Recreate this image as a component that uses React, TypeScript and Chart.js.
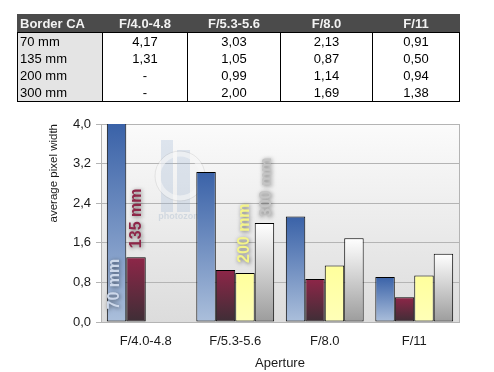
import React, { useEffect, useRef } from "react";
import { Chart, registerables } from "chart.js";

Chart.register(...registerables);

const categories = ["F/4.0-4.8", "F/5.3-5.6", "F/8.0", "F/11"];
const seriesNames = ["70 mm", "135 mm", "200 mm", "300 mm"];
const s70: (number | null)[] = [4.17, 3.03, 2.13, 0.91];
const s135: (number | null)[] = [1.31, 1.05, 0.87, 0.5];
const s200: (number | null)[] = [null, 0.99, 1.14, 0.94];
const s300: (number | null)[] = [null, 2.0, 1.69, 1.38];
const yTickLabels = ["0,0", "0,8", "1,6", "2,4", "3,2", "4,0"];
const tableTitle = "Border CA";

const seriesValues = [s70, s135, s200, s300];

const FONT = 'Arial, "Liberation Sans", sans-serif';

const gradStops: [string, string][] = [
  ["#3a62a8", "#abbfdb"],
  ["#8e2648", "#3e2e36"],
  ["#ffff9c", "#ffffb8"],
  ["#ffffff", "#9c9c9c"],
];

// label config: which bar index gets the series label, inside or above, color
const labelCfg = [
  { idx: 0, inside: true, color: "#cdd8ea", dx: -2, gap: 12 },
  { idx: 0, inside: false, color: "#8e2648", dx: 1, gap: 9 },
  { idx: 1, inside: false, color: "#f4f48a", dx: 0, gap: 10 },
  { idx: 1, inside: false, color: "#c4c4c4", dx: 2, gap: 6 },
];

const fmt = (v: number | null) => (v === null ? "-" : v.toFixed(2).replace(".", ","));

const bgPlugin = {
  id: "plotBg",
  beforeDraw(chart: any) {
    const { ctx, chartArea: a } = chart;
    const g = ctx.createLinearGradient(0, a.top, 0, a.bottom);
    g.addColorStop(0, "#fbfbfb");
    g.addColorStop(1, "#dcdcdc");
    ctx.save();
    ctx.fillStyle = g;
    ctx.fillRect(a.left, a.top, a.right - a.left, a.bottom - a.top);
    ctx.restore();
  },
  beforeDatasetsDraw(chart: any) {
    const { ctx } = chart;
    ctx.save();
    ctx.globalAlpha = 0.3;
    ctx.fillStyle = "#9fb6d4";
    ctx.fillRect(161, 140, 12, 72);
    ctx.fillRect(177, 150, 13, 62);
    ctx.globalAlpha = 0.6;
    ctx.strokeStyle = "#f6f6f6";
    ctx.lineWidth = 5;
    ctx.beginPath();
    ctx.arc(180, 176, 22, 0, Math.PI * 2);
    ctx.stroke();
    ctx.globalAlpha = 0.25;
    ctx.strokeStyle = "#b0b0b0";
    ctx.lineWidth = 1;
    ctx.beginPath();
    ctx.arc(180, 176, 25, 0, Math.PI * 2);
    ctx.stroke();
    ctx.globalAlpha = 0.4;
    ctx.fillStyle = "#a8b8cc";
    ctx.font = `bold 9px ${FONT}`;
    ctx.textAlign = "center";
    ctx.textBaseline = "middle";
    ctx.fillText("photozone", 181, 217);
    ctx.restore();
    // right border of plot
    const a = chart.chartArea;
    ctx.save();
    ctx.strokeStyle = "#b4b4b4";
    ctx.lineWidth = 1;
    ctx.beginPath();
    ctx.moveTo(Math.round(a.right) + 0.5, a.top);
    ctx.lineTo(Math.round(a.right) + 0.5, a.bottom);
    ctx.stroke();
    ctx.restore();
  },
  afterDatasetsDraw(chart: any) {
    const { ctx } = chart;
    chart.data.datasets.forEach((ds: any, di: number) => {
      const cfg = labelCfg[di];
      const el = chart.getDatasetMeta(di).data[cfg.idx];
      if (!el) return;
      const x = el.x + cfg.dx;
      const yStart = cfg.inside ? el.base - cfg.gap : el.y - cfg.gap;
      ctx.save();
      ctx.translate(x, yStart);
      ctx.rotate(-Math.PI / 2);
      ctx.font = `bold 16px ${FONT}`;
      ctx.textAlign = "left";
      ctx.textBaseline = "middle";
      ctx.shadowColor = "rgba(0,0,0,0.55)";
      ctx.shadowBlur = 4;
      ctx.shadowOffsetX = 1;
      ctx.shadowOffsetY = 1;
      ctx.fillStyle = cfg.color;
      ctx.fillText(ds.label, 0, 0);
      ctx.restore();
    });
  },
};

export default function App() {
  const ref = useRef<HTMLCanvasElement | null>(null);

  useEffect(() => {
    if (!ref.current) return;
    const chart = new Chart(ref.current, {
      type: "bar",
      data: {
        labels: categories,
        datasets: seriesValues.map((vals, i) => ({
          label: seriesNames[i],
          data: vals,
          borderColor: "#000000",
          borderWidth: 1,
          borderSkipped: false,
          categoryPercentage: 0.87,
          barPercentage: 1.0,
          backgroundColor: (c: any) => {
            const chart = c.chart;
            const area = chart.chartArea;
            if (!area || c.raw === null || c.raw === undefined) return gradStops[i][0];
            const ys = chart.scales.y;
            const top = Math.max(ys.getPixelForValue(c.raw), area.top);
            const bottom = ys.getPixelForValue(0);
            const g = chart.ctx.createLinearGradient(0, top, 0, bottom);
            g.addColorStop(0, gradStops[i][0]);
            g.addColorStop(1, gradStops[i][1]);
            return g;
          },
        })),
      },
      options: {
        responsive: false,
        animation: false,
        layout: { padding: { left: 0, right: 35, top: 124, bottom: 0 } },
        plugins: {
          legend: { display: false },
          tooltip: { enabled: false },
        },
        scales: {
          x: {
            grid: { display: false },
            border: { display: true, color: "#b4b4b4" },
            ticks: { color: "#1a1a1a", font: { family: FONT, size: 13 }, padding: 4, maxRotation: 0 },
            title: {
              display: true,
              text: "Aperture",
              color: "#1a1a1a",
              font: { family: FONT, size: 13 },
              padding: { top: 0, bottom: 1 },
            },
            afterFit: (s: any) => {
              s.height = 50;
            },
          },
          y: {
            min: 0,
            max: 4,
            ticks: {
              stepSize: 0.8,
              color: "#1a1a1a",
              font: { family: FONT, size: 13 },
              padding: 5,
              callback: (_v: any, idx: number) => yTickLabels[idx],
            },
            grid: { color: "#b4b4b4", lineWidth: 1, tickLength: 5, drawTicks: true },
            border: { display: true, color: "#b4b4b4" },
            title: {
              display: true,
              text: "average pixel width",
              align: "end",
              color: "#1a1a1a",
              font: { family: FONT, size: 11.5 },
              padding: { top: 47, bottom: 0 },
            },
            afterFit: (s: any) => {
              s.width = 101;
            },
          },
        },
      },
      plugins: [bgPlugin],
    } as any);
    return () => chart.destroy();
  }, []);

  const colW = [85, 85, 93, 92, 87];
  const cellBase: React.CSSProperties = {
    fontFamily: FONT,
    fontSize: 13,
    height: 17,
    lineHeight: "17px",
    padding: 0,
    boxSizing: "border-box",
    whiteSpace: "nowrap",
  };

  return (
    <div style={{ position: "absolute", left: 0, top: 0, width: 494, height: 372, background: "#ffffff" }}>
      <canvas ref={ref} width={494} height={372} style={{ position: "absolute", left: 0, top: 0 }} />
      <table
        style={{
          position: "absolute",
          left: 17,
          top: 14,
          width: 442,
          borderCollapse: "collapse",
          tableLayout: "fixed",
          borderSpacing: 0,
        }}
      >
        <colgroup>
          {colW.map((w, i) => (
            <col key={i} style={{ width: w }} />
          ))}
        </colgroup>
        <thead>
          <tr>
            {[tableTitle, ...categories].map((h, i) => (
              <th
                key={i}
                style={{
                  ...cellBase,
                  background: "#4b4b4b",
                  color: "#f2f2f2",
                  fontWeight: "bold",
                  textAlign: i === 0 ? "left" : "center",
                  paddingLeft: i === 0 ? 2 : 0,
                  border: "1px solid #4b4b4b",
                  borderBottom: "1px solid #000",
                }}
              >
                {h}
              </th>
            ))}
          </tr>
        </thead>
        <tbody>
          {seriesNames.map((name, r) => (
            <tr key={r}>
              <td
                style={{
                  ...cellBase,
                  background: "#e4e4e4",
                  color: "#000",
                  textAlign: "left",
                  paddingLeft: 2,
                  borderLeft: "1px solid #000",
                  borderRight: "1px solid #000",
                  borderBottom: r === seriesNames.length - 1 ? "1px solid #000" : "none",
                }}
              >
                {name}
              </td>
              {seriesValues[r].map((v, c) => (
                <td
                  key={c}
                  style={{
                    ...cellBase,
                    color: "#000",
                    textAlign: "center",
                    borderLeft: "1px solid #000",
                    borderRight: "1px solid #000",
                    borderBottom: r === seriesNames.length - 1 ? "1px solid #000" : "none",
                  }}
                >
                  {fmt(v)}
                </td>
              ))}
            </tr>
          ))}
        </tbody>
      </table>
    </div>
  );
}
